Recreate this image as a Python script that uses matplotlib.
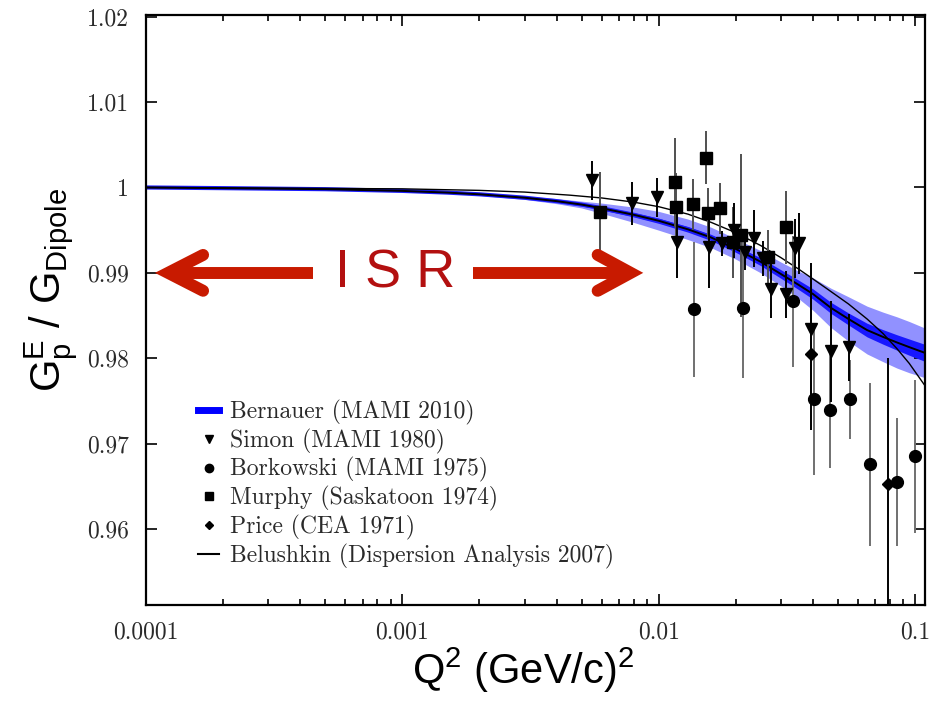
import matplotlib
matplotlib.use("Agg")
import numpy as np
import matplotlib.pyplot as plt
from matplotlib.lines import Line2D
from matplotlib.ticker import FixedLocator, FixedFormatter, LogLocator, NullFormatter

plt.rcParams['mathtext.fontset'] = 'custom'
plt.rcParams['mathtext.rm'] = 'Liberation Sans'
plt.rcParams['mathtext.it'] = 'Liberation Sans:italic'
plt.rcParams['mathtext.bf'] = 'Liberation Sans:bold'

# ---- Bernauer (MAMI 2010) fit: central value, inner and outer band half-widths
bern_q2 = [1e-4, 2e-4, 5e-4, 1e-3, 1.5e-3, 2e-3, 3e-3, 4e-3, 5e-3, 6e-3, 8e-3,
           0.010, 0.013, 0.016, 0.020, 0.025, 0.030, 0.035, 0.040, 0.047, 0.055,
           0.065, 0.075, 0.085, 0.095, 0.110]
bern_val = [1.0, 0.99992, 0.99980, 0.99960, 0.99940, 0.99920, 0.99880, 0.99840,
            0.99800, 0.99757, 0.99680, 0.99610, 0.99510, 0.99415, 0.99280,
            0.99130, 0.98986, 0.98863, 0.98752, 0.98590, 0.98460, 0.98330,
            0.98250, 0.98185, 0.98130, 0.98060]
bern_inner = [0.0, 0.0, 0.00001, 0.00002, 0.00003, 0.00005, 0.00008, 0.00012,
              0.00016, 0.0002, 0.00025, 0.0003, 0.00033, 0.00036, 0.0004,
              0.00045, 0.0005, 0.00055, 0.0006, 0.00065, 0.0007, 0.0008,
              0.00085, 0.0009, 0.00095, 0.001]
bern_outer = [0.0, 0.00001, 0.00003, 0.00005, 0.00008, 0.00012, 0.0002, 0.0003,
              0.0004, 0.0006, 0.0009, 0.0011, 0.0012, 0.0012, 0.0012, 0.0013,
              0.0014, 0.0016, 0.0019, 0.0023, 0.0026, 0.0028, 0.0029, 0.0030,
              0.0030, 0.0029]

# ---- Belushkin (Dispersion Analysis 2007)
bel_q2 = [1e-4, 1e-3, 2e-3, 3e-3, 4.5e-3, 6e-3, 8e-3, 0.010, 0.013, 0.016, 0.020,
          0.025, 0.030, 0.035, 0.040, 0.045, 0.055, 0.065, 0.075, 0.085, 0.095,
          0.110]
bel_val = [1.0, 0.99984, 0.99966, 0.99946, 0.99910, 0.99877, 0.99828, 0.99775,
           0.99688, 0.99592, 0.99470, 0.99320, 0.99178, 0.99048, 0.98928,
           0.98821, 0.98636, 0.98460, 0.98290, 0.98113, 0.97939, 0.97668]

# ---- Simon (MAMI 1980)
simon_q2 = [0.00548, 0.00784, 0.00982, 0.01176, 0.01568, 0.01763, 0.01963,
            0.02168, 0.02350, 0.02548, 0.02738, 0.03134, 0.03400, 0.03524,
            0.03925, 0.04698, 0.05522]
simon_val = [1.00082, 0.99813, 0.99883, 0.99356, 0.99297, 0.99344, 0.99497,
             0.99239, 0.99403, 0.99169, 0.98806, 0.98747, 0.99286, 0.99344,
             0.98337, 0.98080, 0.98126]
simon_err = [0.0023, 0.0025, 0.0023, 0.0042, 0.0048, 0.0015, 0.0032, 0.0020,
             0.0033, 0.0020, 0.0033, 0.0027, 0.0035, 0.0036, 0.0078, 0.0059,
             0.0039]

# ---- Borkowski (MAMI 1975)
bork_q2 = [0.01369, 0.02129, 0.03338, 0.04033, 0.04656, 0.05572, 0.06672,
           0.08504, 0.1000]
bork_val = [0.98571, 0.98583, 0.98665, 0.97518, 0.97389, 0.97518, 0.96756,
            0.96546, 0.96850]
bork_err = [0.0079, 0.0082, 0.0077, 0.0089, 0.0068, 0.0046, 0.0095, 0.0075,
            0.0090]

# ---- Murphy (Saskatoon 1974)
murphy_q2 = [0.00588, 0.01155, 0.01165, 0.01358, 0.01526, 0.01554, 0.01731,
             0.01945, 0.02090, 0.02666, 0.03134]
murphy_val = [0.99707, 1.00059, 0.99766, 0.99801, 1.00351, 0.99696, 0.99754,
              0.99356, 0.99438, 0.99180, 0.99532]
murphy_err = [0.0047, 0.0052, 0.0040, 0.0030, 0.0031, 0.0030, 0.0030, 0.0042,
              0.0095, 0.0032, 0.0043]

# ---- Price (CEA 1971)
price_q2 = [0.03925, 0.07843]
price_val = [0.98044, 0.96522]
price_err = [0.0089, 0.0148]

# ---- axes ticks
xtick_vals = [1e-4, 1e-3, 1e-2, 1e-1]
xtick_labels = ['0.0001', '0.001', '0.01', '0.1']
ytick_vals = [0.96, 0.97, 0.98, 0.99, 1.0, 1.01, 1.02]
ytick_labels = ['0.96', '0.97', '0.98', '0.99', '1', '1.01', '1.02']

legend_labels = ['Bernauer (MAMI 2010)', 'Simon (MAMI 1980)',
                 'Borkowski (MAMI 1975)', 'Murphy (Saskatoon 1974)',
                 'Price (CEA 1971)', 'Belushkin (Dispersion Analysis 2007)']

W, H = 935, 704
fig = plt.figure(figsize=(W / 100, H / 100), dpi=100)
ax = fig.add_axes([146 / W, 1 - 605 / H, 779 / W, 590 / H])
ax.set_xscale('log')
ax.set_xlim(1e-4, 0.1094)
ax.set_ylim(0.9511, 1.0202)

# fit bands
bq = np.array(bern_q2)
bv = np.array(bern_val)
bo = np.array(bern_outer)
bi = np.array(bern_inner)
ax.fill_between(bq, bv - bo, bv + bo, color='#9191ff', lw=0, zorder=1)
ax.fill_between(bq, bv - bi, bv + bi, color='#1717ff', lw=0, zorder=2)
ax.plot(bq, bv, color='#1a1aff', lw=3.0, zorder=2.5, solid_capstyle='butt')
ax.plot(bq, bv, color='black', lw=1.4, zorder=3)

# dispersion analysis curve
ax.plot(bel_q2, bel_val, color='black', lw=1.0, zorder=3)

# data sets
common = dict(linestyle='none', capsize=0, elinewidth=1.4, zorder=4)
ax.errorbar(bork_q2, bork_val, yerr=bork_err, fmt='o', ms=8.5, color='black',
            ecolor='#707070', **common)
ax.errorbar(murphy_q2, murphy_val, yerr=murphy_err, fmt='s', ms=9, color='black',
            ecolor='#505050', **common)
ax.errorbar(price_q2, price_val, yerr=price_err, fmt='D', ms=6, color='black',
            ecolor='black', **common)
ax.errorbar(simon_q2, simon_val, yerr=simon_err, fmt='v', ms=9, color='black',
            ecolor='black', **common)

# ISR arrows
red = '#c81a00'
arrow_kw = dict(color=red, lw=8.6, solid_capstyle='round', solid_joinstyle='miter',
                zorder=5, clip_on=False)
dy = 0.0021
ax.plot([1.67e-4, 1.219e-4, 1.67e-4], [0.99 + dy, 0.99, 0.99 - dy], **arrow_kw)
ax.plot([1.30e-4, 4.49e-4], [0.99, 0.99], color=red, lw=8.6,
        solid_capstyle='butt', zorder=5)
ax.plot([5.78e-3, 7.78e-3, 5.78e-3], [0.99 + dy, 0.99, 0.99 - dy], **arrow_kw)
ax.plot([1.89e-3, 7.3e-3], [0.99, 0.99], color=red, lw=8.6,
        solid_capstyle='butt', zorder=5)
ax.text((395 - 146) / 779, (605 - 273) / 590, 'I S R',
        transform=ax.transAxes, ha='center', va='center', color='#b31010',
        fontsize=39, family='Liberation Sans', zorder=6)

# ticks and labels
ax.xaxis.set_major_locator(FixedLocator(xtick_vals))
ax.xaxis.set_major_formatter(FixedFormatter(xtick_labels))
ax.xaxis.set_minor_locator(LogLocator(base=10, subs=np.arange(2, 10), numticks=20))
ax.xaxis.set_minor_formatter(NullFormatter())
ax.yaxis.set_major_locator(FixedLocator(ytick_vals))
ax.yaxis.set_major_formatter(FixedFormatter(ytick_labels))
ax.tick_params(which='both', direction='in', top=True, right=True, width=1.2,
               colors='black')
ax.tick_params(which='major', length=8, pad=12)
ax.tick_params(which='minor', length=4)
for lab in ax.get_xticklabels() + ax.get_yticklabels():
    lab.set_family('cmr10')
    lab.set_fontsize(17)
    lab.set_color('#2a2a2a')
for sp in ax.spines.values():
    sp.set_linewidth(1.6)

ax.set_xlabel(r'Q$^2$ (GeV/c)$^2$', fontsize=30, family='Liberation Sans')
ax.xaxis.set_label_coords((523 - 146) / 779, (605 - 646) / 590)
ax.set_ylabel(r'G$^{\rm E}_{\rm p}$ / G$_{\rm Dipole}$', fontsize=30,
              family='Liberation Sans')
ax.yaxis.set_label_coords((80 - 146) / 779, (605 - 290) / 590)

# legend
handles = [
    Line2D([], [], color='#0000ff', lw=5),
    Line2D([], [], marker='v', ms=6, color='black', ls='none'),
    Line2D([], [], marker='o', ms=6, color='black', ls='none'),
    Line2D([], [], marker='s', ms=6, color='black', ls='none'),
    Line2D([], [], marker='D', ms=4.5, color='black', ls='none'),
    Line2D([], [], color='black', lw=1.5),
]
leg = ax.legend(handles, legend_labels, loc='lower left',
                bbox_to_anchor=((198 - 146) / 779, (605 - 569) / 590),
                frameon=False, handlelength=0.9, handletextpad=0.45,
                labelspacing=0.16, borderpad=0, borderaxespad=0,
                prop={'family': 'cmr10', 'size': 17})
for t in leg.get_texts():
    t.set_color('#2a2a2a')

fig.savefig('out.png', dpi=100)
